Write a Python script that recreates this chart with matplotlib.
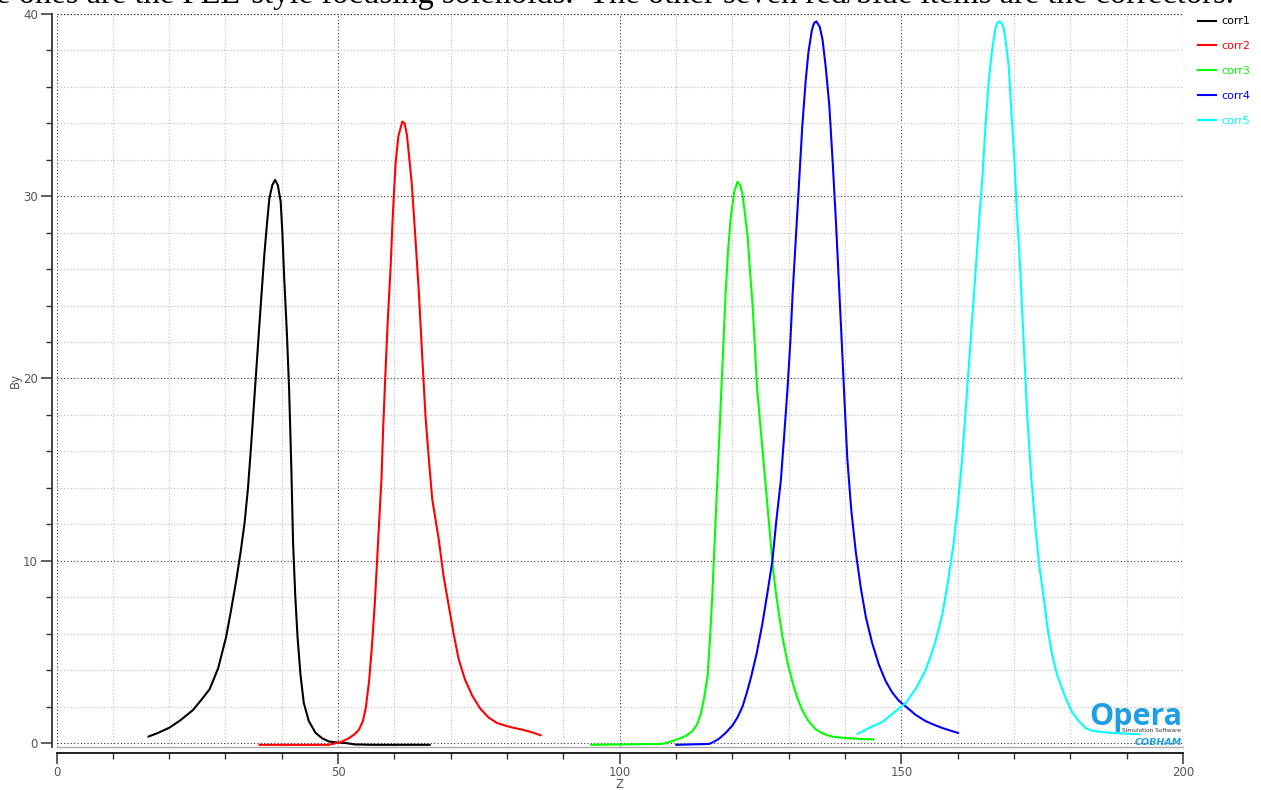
#!/usr/bin/env python3
"""Opera field profile plot: By along Z for the five corrector coils."""

import matplotlib
matplotlib.use("Agg")
import matplotlib.pyplot as plt
from matplotlib.lines import Line2D
from matplotlib.ticker import MultipleLocator

# values
corr1_z = [16.3, 18.0, 20.1, 22.0, 24.2, 25.8, 27.2, 28.7, 30.1, 31.0, 31.9, 32.7,
           33.4, 34.0, 34.5, 35.1, 35.7, 36.3, 36.9, 37.4, 37.8, 38.3, 38.8, 39.3,
           39.8, 40.1, 40.4, 40.9, 41.3, 41.7, 42.0, 42.4, 42.8, 43.3, 43.9, 44.8,
           46.0, 47.2, 48.4, 50.0, 51.3, 53.0, 56.0, 66.3]
corr1_by = [0.35, 0.55, 0.85, 1.25, 1.8, 2.4, 2.96, 4.1, 5.8, 7.3, 8.9, 10.5,
            12.1, 14.0, 16.1, 18.8, 21.5, 24.2, 26.8, 28.6, 29.9, 30.6, 30.9, 30.6,
            29.7, 28.0, 25.7, 22.5, 19.4, 15.0, 11.0, 8.0, 5.8, 3.8, 2.2, 1.2,
            0.55, 0.25, 0.08, 0.02, 0.0, -0.08, -0.1, -0.1]

corr2_z = [36.0, 48.3, 50.5, 51.9, 53.0, 53.7, 54.4, 54.9, 55.5, 56.0, 56.5, 56.9,
           57.3, 57.7, 58.0, 58.4, 58.8, 59.3, 59.7, 60.2, 60.7, 61.4, 61.8, 62.2,
           62.6, 63.1, 63.7, 64.3, 64.9, 65.5, 66.1, 66.7, 67.9, 68.7, 69.6, 70.5,
           71.4, 72.5, 73.8, 75.2, 76.7, 78.2, 79.7, 81.2, 82.7, 84.3, 86.0]
corr2_by = [-0.1, -0.1, 0.05, 0.26, 0.5, 0.73, 1.2, 1.9, 3.4, 5.3, 7.6, 9.9,
            12.2, 14.5, 17.3, 20.3, 23.1, 26.0, 28.9, 31.8, 33.3, 34.1, 34.0, 33.4,
            32.2, 30.6, 27.8, 24.9, 21.4, 18.0, 15.6, 13.4, 11.1, 9.2, 7.6, 6.0,
            4.6, 3.5, 2.6, 1.9, 1.4, 1.1, 0.95, 0.83, 0.73, 0.6, 0.42]

corr3_z = [94.9, 107.6, 109.0, 110.5, 111.8, 112.9, 113.7, 114.4, 115.0, 115.6, 116.0,
           116.4, 116.7, 117.0, 117.3, 117.6, 117.9, 118.2, 118.5, 118.8, 119.2, 119.7,
           120.3, 120.9, 121.4, 121.8, 122.2, 122.7, 123.1, 123.6, 124.0, 124.4, 125.0,
           125.6, 126.2, 126.8, 127.2, 127.7, 128.3, 128.9, 129.8, 130.7, 131.5, 132.4,
           133.5, 134.8, 136.2, 137.8, 140.1, 142.5, 145.1]
corr3_by = [-0.1, -0.05, 0.08, 0.23, 0.4, 0.65, 1.0, 1.6, 2.5, 3.7, 5.6,
            7.9, 10.0, 12.1, 14.2, 16.3, 18.4, 20.5, 22.6, 24.7, 26.9, 28.8,
            30.2, 30.8, 30.6, 30.1, 29.1, 27.8, 26.0, 24.0, 21.7, 19.4, 17.3,
            15.2, 13.1, 11.0, 9.6, 8.3, 7.0, 5.8, 4.4, 3.3, 2.5, 1.8,
            1.2, 0.75, 0.5, 0.34, 0.27, 0.22, 0.2]

corr4_z = [110.0, 115.9, 116.8, 117.6, 118.8, 120.0, 120.9, 121.8, 122.6, 123.3, 124.3,
           125.3, 126.2, 127.1, 127.8, 128.6, 129.2, 129.8, 130.3, 130.7, 131.3, 131.9,
           132.4, 133.0, 133.5, 134.1, 134.5, 134.9, 135.5, 136.0, 136.6, 137.2, 137.8,
           138.4, 138.9, 139.4, 139.9, 140.4, 141.1, 141.9, 142.8, 143.7, 144.8, 146.0,
           147.2, 148.4, 149.6, 150.8, 152.5, 154.3, 155.8, 157.3, 158.7, 160.1]
corr4_by = [-0.1, -0.05, 0.08, 0.23, 0.55, 0.96, 1.4, 2.0, 2.8, 3.6, 4.9,
            6.5, 8.2, 10.0, 12.2, 14.4, 16.9, 19.5, 22.1, 24.7, 27.9, 31.1,
            33.8, 36.3, 37.9, 39.1, 39.5, 39.6, 39.3, 38.6, 37.0, 35.0, 31.9,
            28.5, 25.3, 22.1, 18.8, 15.6, 12.8, 10.5, 8.5, 6.9, 5.5, 4.3,
            3.4, 2.76, 2.3, 2.0, 1.55, 1.2, 1.0, 0.82, 0.68, 0.55]

corr5_z = [142.2, 144.4, 146.6, 148.4, 150.8, 152.6, 154.3, 155.9, 157.3, 158.3, 159.3,
           160.1, 160.8, 161.4, 162.0, 162.6, 163.2, 163.8, 164.4, 164.9, 165.5, 166.1,
           166.7, 167.0, 167.4, 167.8, 168.2, 168.6, 169.1, 169.5, 170.0, 170.5, 171.1,
           171.7, 172.3, 173.0, 173.8, 174.5, 175.3, 176.0, 176.8, 177.6, 178.5, 179.4,
           180.3, 181.5, 182.7, 183.8, 185.0, 187.0, 189.2, 192.3]
corr5_by = [0.5, 0.85, 1.15, 1.6, 2.2, 3.0, 4.0, 5.4, 7.1, 8.9, 11.0,
            13.3, 15.6, 18.2, 20.8, 23.4, 26.0, 28.6, 31.1, 33.7, 36.3, 38.0,
            39.2, 39.5, 39.6, 39.5, 39.2, 38.3, 37.0, 34.8, 32.4, 29.2, 26.0,
            22.1, 18.2, 14.8, 11.8, 9.7, 7.9, 6.2, 4.8, 3.8, 3.0, 2.3,
            1.7, 1.2, 0.82, 0.68, 0.62, 0.56, 0.52, 0.48]

series_names = ["corr1", "corr2", "corr3", "corr4", "corr5"]
series_colors = ["#000000", "#ff0000", "#00ff00", "#0000ff", "#00ffff"]

W, H = 1261, 790
fig = plt.figure(figsize=(W / 100, H / 100), dpi=100)
ax = fig.add_axes([56.5 / W, 1 - 747 / H, (1183 - 56.5) / W, (747 - 14) / H])

curves = [(corr1_z, corr1_by), (corr2_z, corr2_by), (corr3_z, corr3_by),
          (corr4_z, corr4_by), (corr5_z, corr5_by)]
for (z, by), name, col in zip(curves, series_names, series_colors):
    ax.plot(z, by, color=col, lw=1.5, label=name, zorder=3,
            solid_joinstyle="round", solid_capstyle="round")

ax.set_xlim(0, 200)
ax.set_ylim(-0.22, 40)
ax.xaxis.set_major_locator(MultipleLocator(50))
ax.xaxis.set_minor_locator(MultipleLocator(10))
ax.yaxis.set_major_locator(MultipleLocator(10))
ax.yaxis.set_minor_locator(MultipleLocator(2))

ax.grid(which="minor", color="#bbbbbb", ls=(0, (1, 2)), lw=0.8)
ax.grid(which="major", color="#333333", ls=(0, (1, 2)), lw=0.8)
ax.set_axisbelow(True)

for side in ("top", "right"):
    ax.spines[side].set_visible(False)
ax.spines["left"].set_position(("outward", 3.5))
ax.spines["bottom"].set_position(("outward", 4))
ax.spines["left"].set_color("#333333")
ax.spines["bottom"].set_color("#111111")
ax.spines["left"].set_linewidth(1.3)
ax.spines["bottom"].set_linewidth(1.3)
ax.axhline(-0.22, color="#aaaaaa", lw=1.0, zorder=1, clip_on=False)
ax.axhline(40, color="#333333", ls=(0, (1, 2)), lw=0.8, zorder=1)
ax.axvline(200, color="#333333", ls=(0, (1, 2)), lw=0.8, zorder=1)

ax.tick_params(which="major", length=8, width=1.1, color="#333333",
               labelsize=8.5, labelcolor="#555555", pad=2)
ax.tick_params(which="minor", length=4, width=1.0, color="#333333")

ax.set_xlabel("Z", fontsize=8.5, color="#555555", va="center")
ax.xaxis.set_label_coords(0.5, -37 / 733)
ax.set_ylabel("By", fontsize=8.5, color="#555555", labelpad=1)

handles = [Line2D([], [], color=c, lw=1.5) for c in series_colors]
fig.legend(handles, series_names, loc="upper left",
           bbox_to_anchor=(1194 / W, 1 - 12 / H), frameon=False,
           fontsize=8, labelcolor=series_colors, handlelength=1.6,
           handletextpad=0.45, labelspacing=1.33, borderaxespad=0)

# Opera logo
fig.text(1182 / W, 1 - 725 / H, "Opera", fontsize=22, fontweight="bold",
         family="Open Sans", color="#1e9fe3", ha="right", va="baseline")
fig.text(1181 / W, 1 - 732 / H, "Simulation Software", fontsize=4.2,
         color="#333333", ha="right", va="baseline")
fig.text(1182 / W, 1 - 745 / H, "COBHAM", fontsize=6.8, fontweight="bold",
         style="italic", color="#1e9fe3", ha="right", va="baseline")

# clipped line of page text above the chart
fig.text(-4 / W, 1 - 3 / H,
         "e ones are the PEL-style focusing solenoids.  The other seven red/blue items are the correctors.",
         fontsize=23.5, family="Liberation Serif", color="black",
         ha="left", va="baseline")

fig.savefig("out.png", dpi=100)
